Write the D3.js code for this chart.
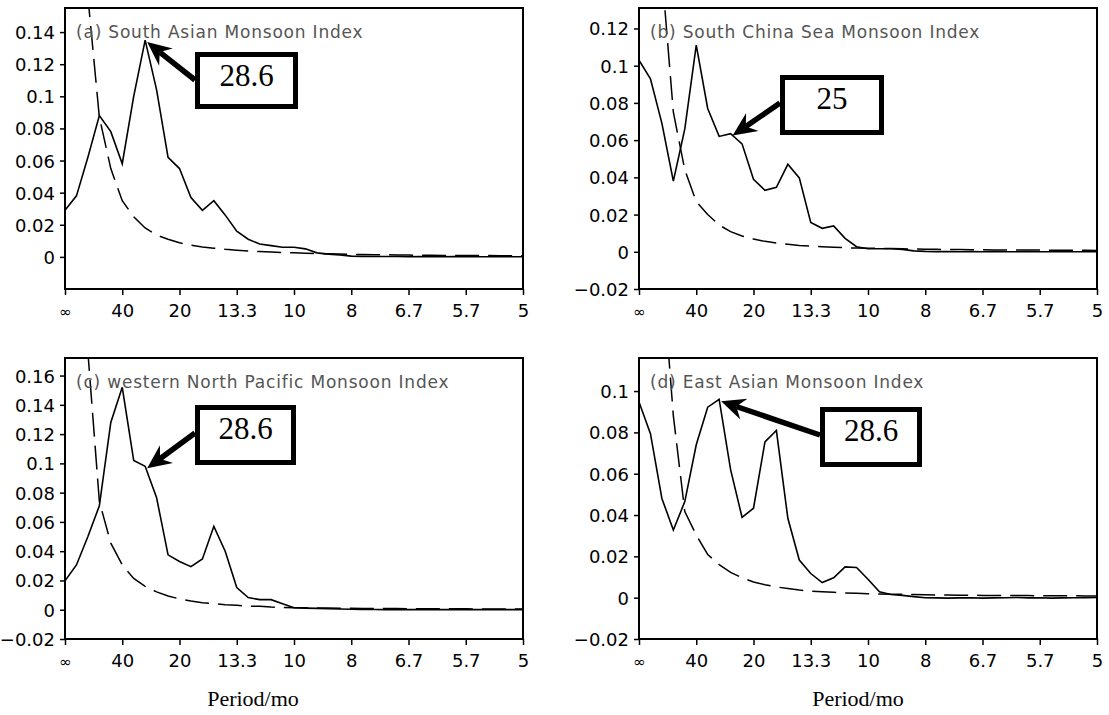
<!DOCTYPE html>
<meta charset="utf-8">
<html>
<head>
  <title>Monsoon index spectra</title>
  <style type="text/css">
    body{margin:0; background:#fff;}
    svg{display:block;}
    .tick text{font-family:"DejaVu Sans",sans-serif; font-size:18px; fill:#000;}
    .title{font-family:"DejaVu Sans",sans-serif; font-size:17px; letter-spacing:0.8px; fill:#555;}
    .serif{font-family:"Liberation Serif","Times New Roman",serif; fill:#000;}
  </style>
</head>
<body>
  <script src="https://cdn.jsdelivr.net/npm/d3@7"></script>
  <script>
    // frequency index k = 0..40, period = 200/k months
    var xTickIdx = [0, 5, 10, 15, 20, 25, 30, 35, 40];
    var xTickLabels = ['\u221e', '40', '20', '13.3', '10', '8', '6.7', '5.7', '5'];

    var saTicks = [0, 0.02, 0.04, 0.06, 0.08, 0.1, 0.12, 0.14];
    var scsTicks = [-0.02, 0, 0.02, 0.04, 0.06, 0.08, 0.1, 0.12];
    var wnpTicks = [-0.02, 0, 0.02, 0.04, 0.06, 0.08, 0.1, 0.12, 0.14, 0.16];
    var eaTicks = [-0.02, 0, 0.02, 0.04, 0.06, 0.08, 0.1];

    var saSpec = [0.029, 0.038, 0.062, 0.088, 0.078, 0.058, 0.100, 0.135, 0.104, 0.062,
      0.055, 0.037, 0.029, 0.035, 0.026, 0.016, 0.011, 0.008, 0.007, 0.006,
      0.006, 0.005, 0.0025, 0.0017, 0.0012, 0.0005, 0.0003, 0.0002, 0.0002, 0.0002,
      0.0001, 0.0002, 0.0001, 0.0001, 0.0002, 0.0001, 0.0001, 0.0001, 0.0002, 0.0001, 0.0001];
    var saRed = [1.5, 0.5, 0.162, 0.087, 0.055, 0.035, 0.025, 0.018, 0.0135, 0.011,
      0.0088, 0.0073, 0.0062, 0.0054, 0.0047, 0.0042, 0.0037, 0.0033, 0.003, 0.0027,
      0.0025, 0.0023, 0.0021, 0.0019, 0.0018, 0.0016, 0.0015, 0.0014, 0.0013, 0.0012,
      0.0011, 0.001, 0.001, 0.0009, 0.0009, 0.0008, 0.0008, 0.0008, 0.0007, 0.0007, 0.0007];

    var scsSpec = [0.103, 0.093, 0.069, 0.038, 0.066, 0.111, 0.077, 0.062, 0.0635, 0.058,
      0.039, 0.033, 0.0346, 0.047, 0.0397, 0.0157, 0.0126, 0.0139, 0.0072, 0.0027,
      0.0016, 0.0016, 0.0016, 0.0013, 0.0005, 0.0002, 0.0001, 0.0001, 0.0, 0.0001,
      0.0, 0.0001, 0.0, 0.0, 0.0001, 0.0, 0.0, 0.0001, 0.0, 0.0, 0.0];
    var scsRed = [1.3, 0.45, 0.15, 0.075, 0.044, 0.027, 0.020, 0.0144, 0.0108, 0.0085,
      0.0069, 0.0056, 0.0047, 0.004, 0.0034, 0.003, 0.0027, 0.0024, 0.0022, 0.002,
      0.0019, 0.0018, 0.0017, 0.0016, 0.0015, 0.0014, 0.0013, 0.0012, 0.0012, 0.0011,
      0.0011, 0.001, 0.001, 0.0009, 0.0009, 0.0009, 0.0008, 0.0008, 0.0008, 0.0008, 0.0007];

    var wnpSpec = [0.0198, 0.0306, 0.050, 0.071, 0.128, 0.152, 0.102, 0.098, 0.0765, 0.0375,
      0.033, 0.0294, 0.0347, 0.057, 0.0398, 0.0152, 0.0083, 0.0069, 0.0069, 0.0041,
      0.0014, 0.0011, 0.0009, 0.0007, 0.0005, 0.0003, 0.0002, 0.0002, 0.0001, 0.0001,
      0.0001, 0.0002, 0.0001, 0.0001, 0.0001, 0.0001, 0.0001, 0.0002, 0.0001, 0.0001, 0.0001];
    var wnpRed = [1.6, 0.55, 0.176, 0.074, 0.0455, 0.0306, 0.0214, 0.016, 0.0122, 0.0094,
      0.0074, 0.006, 0.0048, 0.0041, 0.0034, 0.003, 0.0025, 0.0023, 0.0018, 0.0016,
      0.0014, 0.0013, 0.0012, 0.0011, 0.001, 0.001, 0.0009, 0.0009, 0.0008, 0.0008,
      0.0007, 0.0007, 0.0007, 0.0006, 0.0006, 0.0006, 0.0005, 0.0005, 0.0005, 0.0005, 0.0005];

    var eaSpec = [0.0947, 0.0794, 0.048, 0.0327, 0.0465, 0.074, 0.0922, 0.096, 0.062, 0.0389,
      0.0433, 0.0754, 0.0809, 0.0384, 0.0182, 0.0117, 0.0073, 0.0096, 0.0149, 0.0146,
      0.0089, 0.0028, 0.0015, 0.0011, 0.0005, 0.0, -0.0001, -0.0002, -0.0001, 0.0,
      -0.0002, -0.0001, 0.0, 0.0001, -0.0001, 0.0, -0.0002, -0.0001, 0.0, 0.0, 0.0001];
    var eaRed = [1.4, 0.5, 0.16, 0.088, 0.0417, 0.0303, 0.0209, 0.016, 0.0122, 0.0096,
      0.0076, 0.0063, 0.0052, 0.0044, 0.0037, 0.0032, 0.0029, 0.0026, 0.0023, 0.0021,
      0.0019, 0.0018, 0.0017, 0.0016, 0.0015, 0.0014, 0.0013, 0.0013, 0.0012, 0.0012,
      0.0011, 0.0011, 0.001, 0.001, 0.001, 0.0009, 0.0009, 0.0009, 0.0009, 0.0008, 0.0008];

    var titles = ['(a) South Asian Monsoon Index', '(b) South China Sea Monsoon Index',
      '(c) western North Pacific Monsoon Index', '(d) East Asian Monsoon Index'];
    var notes = ['28.6', '25', '28.6', '28.6'];
    var noteIdx = [7, 8, 7, 7];

    var width = 1109,
        height = 715;

    var panels = [
      {spec: saSpec, red: saRed, ticks: saTicks, ymax: 0.155,
       x0: 65, x1: 523, y0: 8, y1: 289, box: [195, 52, 103, 57]},
      {spec: scsSpec, red: scsRed, ticks: scsTicks, ymax: 0.131,
       x0: 639, x1: 1097, y0: 8, y1: 289, box: [780, 75, 104, 60]},
      {spec: wnpSpec, red: wnpRed, ticks: wnpTicks, ymax: 0.172,
       x0: 65, x1: 523, y0: 358, y1: 639, box: [195, 405, 101, 60]},
      {spec: eaSpec, red: eaRed, ticks: eaTicks, ymax: 0.116,
       x0: 639, x1: 1097, y0: 358, y1: 639, box: [820, 407, 102, 60]}
    ];

    var svg = d3.select('body')
        .append('svg')
        .attr('width', width)
        .attr('height', height);

    var fmt = d3.format('~g');

    panels.forEach(function(p, i){
      var x = d3.scaleLinear().domain([0, 40]).range([p.x0, p.x1]);
      var y = d3.scaleLinear().domain([-0.02, p.ymax]).range([p.y1, p.y0]);
      var g = svg.append('g');

      g.append('clipPath').attr('id', 'clip' + i)
        .append('rect')
        .attr('x', p.x0).attr('y', p.y0)
        .attr('width', p.x1 - p.x0).attr('height', p.y1 - p.y0);

      var line = d3.line()
        .x(function(d, k){ return x(k); })
        .y(function(d){ return y(d); });

      g.append('path')
        .datum(p.red)
        .attr('clip-path', 'url(#clip' + i + ')')
        .attr('d', line)
        .attr('fill', 'none')
        .attr('stroke', '#000')
        .attr('stroke-width', 1.5)
        .attr('stroke-dasharray', '24,9');

      g.append('path')
        .datum(p.spec)
        .attr('clip-path', 'url(#clip' + i + ')')
        .attr('d', line)
        .attr('fill', 'none')
        .attr('stroke', '#000')
        .attr('stroke-width', 1.6);

      // axes
      var ya = g.append('g')
        .attr('transform', 'translate(' + p.x0 + ',0)')
        .call(d3.axisLeft(y).tickValues(p.ticks).tickFormat(fmt).tickSize(5).tickPadding(5));
      ya.select('.domain').remove();
      ya.selectAll('.tick line').attr('stroke-width', 1.5);
      ya.selectAll('.tick text').attr('dy', '0.36em');

      var xa = g.append('g')
        .attr('transform', 'translate(0,' + p.y1 + ')')
        .call(d3.axisBottom(x).tickValues(xTickIdx)
          .tickFormat(function(d, j){ return xTickLabels[j]; })
          .tickSize(6).tickPadding(9));
      xa.select('.domain').remove();
      xa.selectAll('.tick line').attr('stroke-width', 1.5);
      xa.selectAll('.tick text').filter(function(d){ return d === 0; })
        .style('font-size', '15px').attr('dy', '0.85em');

      g.append('rect')
        .attr('x', p.x0).attr('y', p.y0)
        .attr('width', p.x1 - p.x0).attr('height', p.y1 - p.y0)
        .attr('fill', 'none')
        .attr('stroke', '#000')
        .attr('stroke-width', 2);

      g.append('text')
        .attr('class', 'title')
        .attr('x', p.x0 + 11)
        .attr('y', p.y0 + 30)
        .text(titles[i]);

      // annotation box + arrow to the marked peak
      var b = p.box;
      g.append('rect')
        .attr('x', b[0] + 2.5).attr('y', b[1] + 2.5)
        .attr('width', b[2] - 5).attr('height', b[3] - 5)
        .attr('fill', '#fff')
        .attr('stroke', '#000')
        .attr('stroke-width', 5);

      g.append('text')
        .attr('class', 'serif')
        .attr('x', b[0] + b[2] / 2)
        .attr('y', b[1] + 34)
        .attr('text-anchor', 'middle')
        .style('font-size', '31px')
        .text(notes[i]);

      var tx = x(noteIdx[i]) + 2, ty = y(p.spec[noteIdx[i]]) + 2;
      var sx = b[0], sy = b[1] + 28;
      var ang = Math.atan2(ty - sy, tx - sx);
      var ca = Math.cos(ang), sa = Math.sin(ang);
      var hl = 24, hw = 11, notch = 16;
      g.append('line')
        .attr('x1', sx).attr('y1', sy)
        .attr('x2', tx - notch * ca).attr('y2', ty - notch * sa)
        .attr('stroke', '#000')
        .attr('stroke-width', 5.5);
      g.append('path')
        .attr('d', 'M' + tx + ',' + ty +
          'L' + (tx - hl * ca - hw * sa) + ',' + (ty - hl * sa + hw * ca) +
          'L' + (tx - notch * ca) + ',' + (ty - notch * sa) +
          'L' + (tx - hl * ca + hw * sa) + ',' + (ty - hl * sa - hw * ca) + 'Z')
        .attr('fill', '#000');
    });

    svg.selectAll('.xlab')
      .data([253, 858])
      .enter()
      .append('text')
      .attr('class', 'serif')
      .attr('x', function(d){ return d; })
      .attr('y', 706)
      .attr('text-anchor', 'middle')
      .style('font-size', '22px')
      .text('Period/mo');
  </script>
</body>
</html>
